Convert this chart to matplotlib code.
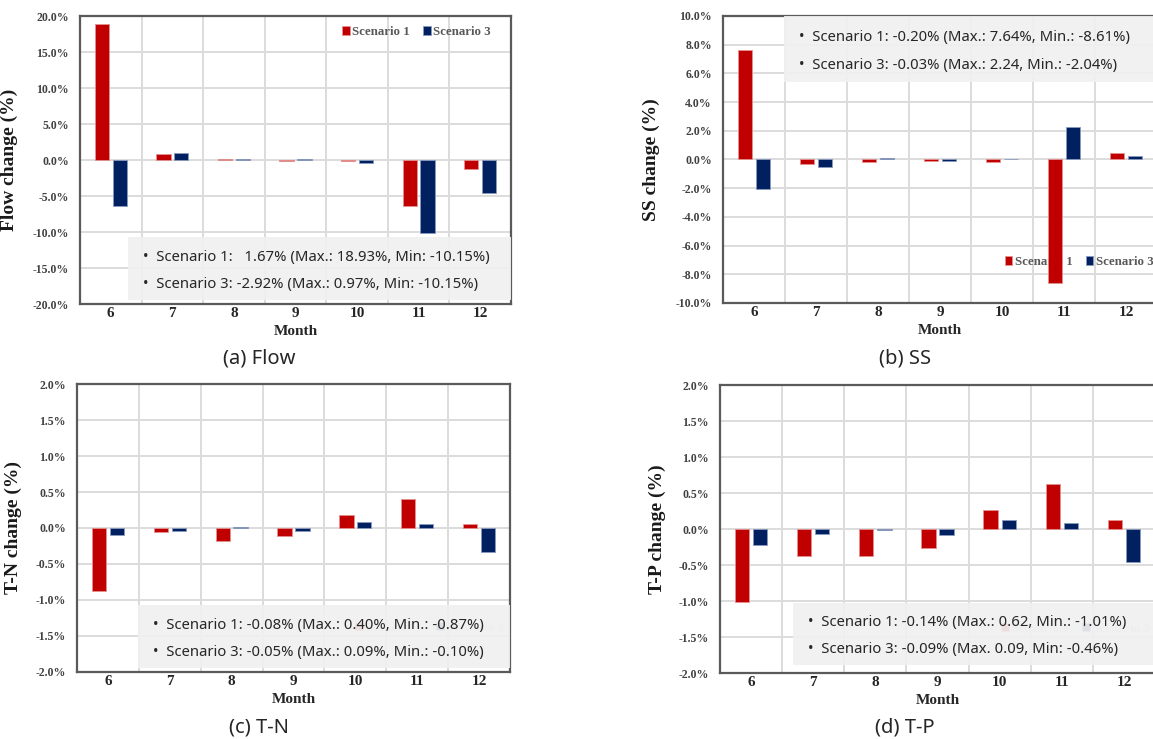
import matplotlib
matplotlib.use('Agg')
import matplotlib.pyplot as plt
import matplotlib.ticker as mticker
from matplotlib.patches import Rectangle
import numpy as np


# Data (monthly change, %)
months = [6, 7, 8, 9, 10, 11, 12]

flow_s1 = [18.93, 0.78, 0.12, -0.15, -0.12, -6.44, -1.29]
flow_s3 = [-6.35, 0.97, 0.10, 0.12, -0.40, -10.15, -4.60]

ss_s1 = [7.64, -0.28, -0.19, -0.08, -0.15, -8.61, 0.42]
ss_s3 = [-2.04, -0.50, 0.08, -0.12, 0.06, 2.24, 0.22]

tn_s1 = [-0.87, -0.06, -0.18, -0.11, 0.18, 0.40, 0.06]
tn_s3 = [-0.10, -0.04, 0.01, -0.04, 0.09, 0.05, -0.33]

tp_s1 = [-1.01, -0.38, -0.37, -0.26, 0.27, 0.62, 0.12]
tp_s3 = [-0.22, -0.07, -0.02, -0.08, 0.12, 0.09, -0.46]

series_names = ['Scenario 1', 'Scenario 3']
ylabels = ['Flow change (%)', 'SS change (%)', 'T-N change (%)', 'T-P change (%)']
captions = ['(a) Flow', '(b) SS', '(c) T-N', '(d) T-P']

notes_flow = ['•  Scenario 1:   1.67% (Max.: 18.93%, Min: -10.15%)',
              '•  Scenario 3: -2.92% (Max.: 0.97%, Min: -10.15%)']
notes_ss = ['•  Scenario 1: -0.20% (Max.: 7.64%, Min.: -8.61%)',
            '•  Scenario 3: -0.03% (Max.: 2.24, Min.: -2.04%)']
notes_tn = ['•  Scenario 1: -0.08% (Max.: 0.40%, Min.: -0.87%)',
            '•  Scenario 3: -0.05% (Max.: 0.09%, Min.: -0.10%)']
notes_tp = ['•  Scenario 1: -0.14% (Max.: 0.62, Min.: -1.01%)',
            '•  Scenario 3: -0.09% (Max. 0.09, Min: -0.46%)']

RED = '#C00000'
BLUE = '#002060'
SERIF = 'Liberation Serif'
SANS = 'Noto Sans'

W, H = 1153, 739
fig = plt.figure(figsize=(W / 100, H / 100), dpi=100)


def px_axes(left, top, right, bottom):
    # pixel box -> figure fraction
    return fig.add_axes([left / W, 1 - bottom / H, (right - left) / W, (bottom - top) / H])


def draw_panel(ax, s1, s3, ylim, ystep, ylabel, ylab_x, leg_anchor, leg_loc,
               notes, box, caption, cap_xy, leg_faint=False):
    x = np.arange(len(months))
    ax.bar(x - 0.145, s1, 0.23, color=RED, edgecolor='#e59090', linewidth=0.6,
           zorder=3, label=series_names[0])
    ax.bar(x + 0.145, s3, 0.23, color=BLUE, edgecolor='#8a9ac0', linewidth=0.6,
           zorder=3, label=series_names[1])

    ax.set_xlim(-0.5, len(months) - 0.5)
    ax.set_ylim(*ylim)
    ax.set_xticks(x)
    ax.set_xticklabels([str(m) for m in months], fontfamily=SERIF,
                       fontweight='bold', fontsize=11, color='#262626')
    ax.set_xticks(x[:-1] + 0.5, minor=True)
    ax.yaxis.set_major_locator(mticker.MultipleLocator(ystep))
    ax.yaxis.set_major_formatter(mticker.FuncFormatter(lambda v, p: '%.1f%%' % v))
    for t in ax.get_yticklabels():
        t.set_fontfamily(SERIF)
        t.set_fontweight('bold')
        t.set_fontsize(8.5)
        t.set_color('#404040')
    ax.tick_params(which='both', length=0)
    ax.tick_params(axis='y', pad=8)
    ax.tick_params(axis='x', pad=2)
    ax.grid(axis='y', which='major', color='#dcdcdc', linewidth=1.4, zorder=0)
    ax.grid(axis='x', which='minor', color='#dcdcdc', linewidth=1.4, zorder=0)
    ax.set_axisbelow(True)
    for sp in ax.spines.values():
        sp.set_color('#5a5a5a')
        sp.set_linewidth(1.6)

    ax.set_ylabel(ylabel, fontfamily=SERIF, fontweight='bold', fontsize=14,
                  color='#1a1a1a')
    ax.yaxis.set_label_coords(ylab_x, 0.5)
    ax.set_xlabel('Month', fontfamily=SERIF, fontweight='bold', fontsize=11,
                  color='#262626', labelpad=4)

    leg = ax.legend(loc=leg_loc, bbox_to_anchor=leg_anchor, ncol=2, frameon=False,
                    handlelength=0.6, handleheight=0.6, handletextpad=0.2,
                    columnspacing=1.0, borderaxespad=0,
                    prop={'family': SERIF, 'weight': 'bold', 'size': 9.3})
    for t in leg.get_texts():
        t.set_color('#d8d8d8' if leg_faint else '#595959')
    leg.set_zorder(2)

    # grey note box with the summary statistics
    bx0, by0, bx1, by1 = box
    ax.add_patch(Rectangle((bx0, by0), bx1 - bx0, by1 - by0, transform=ax.transAxes,
                           facecolor='#f0f0f0', edgecolor='none', alpha=0.93,
                           zorder=6, clip_on=False))
    for i, line in enumerate(notes):
        ax.text(bx0 + 0.035, by1 - (by1 - by0) * (0.32 + 0.43 * i), line,
                transform=ax.transAxes, fontfamily=SANS, fontsize=10.7,
                color='#262626', va='center', ha='left', zorder=7)

    fig.text(cap_xy[0] / W, 1 - cap_xy[1] / H, caption, fontfamily=SANS,
             fontsize=14.5, color='#262626', ha='center', va='center')


def pbox(ax_px, b):
    # note box given in pixels -> axes fraction
    l, t, r, btm = ax_px
    return ((b[0] - l) / (r - l), (btm - b[3]) / (btm - t),
            (b[2] - l) / (r - l), (btm - b[1]) / (btm - t))


a_px = (80, 16, 511, 304)
b_px = (723, 16, 1157, 303)
c_px = (77, 384, 510, 672)
d_px = (720, 385, 1155, 673)

ax_a = px_axes(*a_px)
draw_panel(ax_a, flow_s1, flow_s3, (-20, 20), 5, ylabels[0], -0.144,
           (0.965, 0.944), 'center right', notes_flow,
           pbox(a_px, (128, 237, 511, 300)), captions[0], (259, 358))

ax_b = px_axes(*b_px)
draw_panel(ax_b, ss_s1, ss_s3, (-10, 10), 2, ylabels[1], -0.145,
           (0.637, 0.143), 'center left', notes_ss,
           pbox(b_px, (784, 16, 1157, 82)), captions[1], (905, 358))

ax_c = px_axes(*c_px)
draw_panel(ax_c, tn_s1, tn_s3, (-2, 2), 0.5, ylabels[2], -0.127,
           (0.63, 0.153), 'center left', notes_tn,
           pbox(c_px, (138, 605, 510, 668)), captions[2], (259, 728), leg_faint=True)

ax_d = px_axes(*d_px)
draw_panel(ax_d, tp_s1, tp_s3, (-2, 2), 0.5, ylabels[3], -0.124,
           (0.634, 0.153), 'center left', notes_tp,
           pbox(d_px, (793, 603, 1155, 665)), captions[3], (905, 727), leg_faint=True)

fig.savefig('out.png', dpi=100, facecolor='white')
